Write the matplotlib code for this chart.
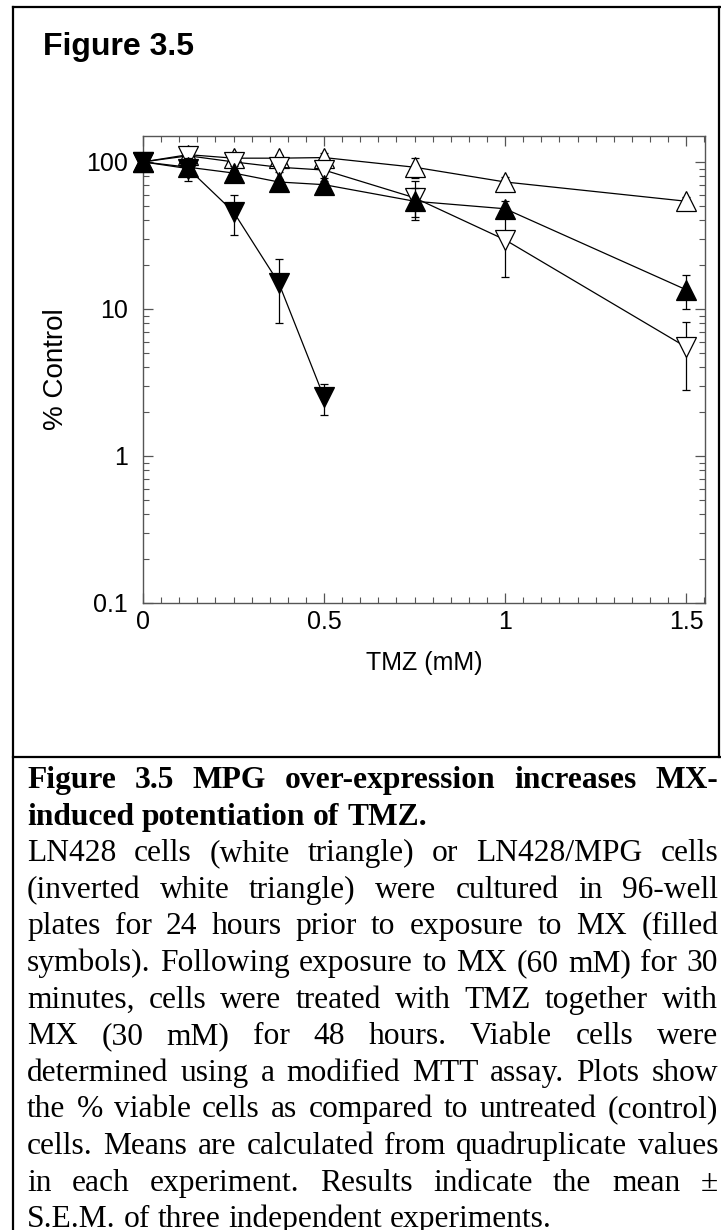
import numpy as np
import matplotlib.pyplot as plt
from matplotlib.lines import Line2D
from matplotlib.ticker import FixedLocator, LogLocator, NullFormatter, MultipleLocator

# TMZ dose (mM)
tmz = [0, 0.125, 0.25, 0.375, 0.5, 0.75, 1.0, 1.5]
tmz_mx_mpg = [0, 0.125, 0.25, 0.375, 0.5]

# % control, mean and S.E.M.
ln428 = [100, 112, 106, 106, 107, 92, 73, 54]
ln428_err = [0, 5, 5, 6, 8, 14, 6, 4]
mpg = [100, 110, 100, 92, 88, 57, 29.5, 5.5]
mpg_err = [0, 5, 6, 7, 10, 17, 13, 2.7]
ln428_mx = [100, 92, 84, 73, 70, 54, 48, 13.5]
ln428_mx_err = [0, 5, 4, 4, 4, 12, 6, 3.5]
mpg_mx = [100, 90, 45.7, 15, 2.5]
mpg_mx_err = [0, 16, 14, 7, 0.6]

xticks = [0, 0.5, 1, 1.5]
xticklabels = ['0', '0.5', '1', '1.5']
yticks = [0.1, 1, 10, 100]
yticklabels = ['0.1', '1', '10', '100']

title_lines = ['Figure 3.5 MPG over-expression increases MX-',
               'induced potentiation of TMZ.']
body_lines = ['LN428 cells (white triangle) or LN428/MPG cells',
              '(inverted white triangle) were cultured in 96-well',
              'plates for 24 hours prior to exposure to MX (filled',
              'symbols). Following exposure to MX (60 mM) for 30',
              'minutes, cells were treated with TMZ together with',
              'MX (30 mM) for 48 hours. Viable cells were',
              'determined using a modified MTT assay. Plots show',
              'the % viable cells as compared to untreated (control)',
              'cells. Means are calculated from quadruplicate values',
              'in each experiment. Results indicate the mean \u00b1',
              'S.E.M. of three independent experiments.']

W, H = 721, 1230
fig = plt.figure(figsize=(W / 100, H / 100), dpi=100)
plt.rcParams['font.family'] = ['Liberation Sans', 'DejaVu Sans']

def fx(px):
    return px / W

def fy(py):
    return 1 - py / H

# frame around the figure panel
for xs, ys in [((13, 13), (7, 1230)), ((13, 721), (7, 7)), ((719, 719), (7, 757)),
               ((13, 721), (757, 757))]:
    fig.add_artist(Line2D([fx(x) for x in xs], [fy(y) for y in ys], color='black', lw=1.6))

fig.text(fx(43), fy(55), 'Figure 3.5', fontsize=23, fontweight='bold', va='baseline')

ax = fig.add_axes([fx(143), fy(603), fx(705) - fx(143), (603 - 136) / H])

style = dict(color='black', lw=0.9, ms=15, capsize=3, elinewidth=0.9,
             capthick=0.9, clip_on=False, markeredgewidth=0.9)
ax.errorbar(tmz, ln428, yerr=ln428_err, marker='^', mfc='white', mec='black', zorder=3, **style)
ax.errorbar(tmz, mpg, yerr=mpg_err, marker='v', mfc='white', mec='black', zorder=4, **style)
ax.errorbar(tmz, ln428_mx, yerr=ln428_mx_err, marker='^', mfc='black', mec='black', zorder=5, **style)
ax.errorbar(tmz_mx_mpg, mpg_mx, yerr=mpg_mx_err, marker='v', mfc='black', mec='black', zorder=6, **style)

ax.set_yscale('log')
ax.set_xlim(0, 1.552)
ax.set_ylim(0.1, 150)

ax.xaxis.set_major_locator(FixedLocator(xticks))
ax.set_xticklabels(xticklabels)
ax.xaxis.set_minor_locator(MultipleLocator(0.05))
ax.yaxis.set_major_locator(FixedLocator(yticks))
ax.set_yticklabels(yticklabels)
ax.yaxis.set_minor_locator(LogLocator(base=10, subs=np.arange(2, 10)))
ax.yaxis.set_minor_formatter(NullFormatter())

for s in ax.spines.values():
    s.set_color('#555555')
    s.set_linewidth(1.0)
ax.tick_params(which='both', direction='in', top=True, right=True, colors='#555555',
               labelcolor='black', labelsize=18)
ax.tick_params(which='major', length=7, width=0.9)
ax.tick_params(which='minor', length=4, width=0.8)
ax.tick_params(axis='y', which='major', pad=11)
ax.tick_params(axis='x', which='major', pad=5)

ax.set_xlabel('TMZ (mM)', fontsize=18, labelpad=12)
ax.set_ylabel('% Control', fontsize=20, labelpad=12)

# justified caption below the figure panel
renderer = fig.canvas.get_renderer()
left, right = 27, 718
fs = 22.7

def put_line(text, baseline, bold, justify):
    words = text.split(' ')
    arts = [fig.text(0, fy(baseline), w, fontsize=fs, family='Liberation Serif',
                     fontweight='bold' if bold else 'normal', va='baseline') for w in words]
    widths = [a.get_window_extent(renderer).width for a in arts]
    if justify and len(words) > 1:
        gap = (right - left - sum(widths)) / (len(words) - 1)
    else:
        gap = fs * 100 / 72 * 0.25
    x = left
    for a, w in zip(arts, widths):
        a.set_x(fx(x))
        x += w + gap

base = 788
step = 36.6
lines = [(t, True, i < len(title_lines) - 1) for i, t in enumerate(title_lines)]
lines += [(t, False, i < len(body_lines) - 1) for i, t in enumerate(body_lines)]
for i, (t, bold, just) in enumerate(lines):
    put_line(t, base + i * step, bold, just)

fig.savefig('out.png', dpi=100)
